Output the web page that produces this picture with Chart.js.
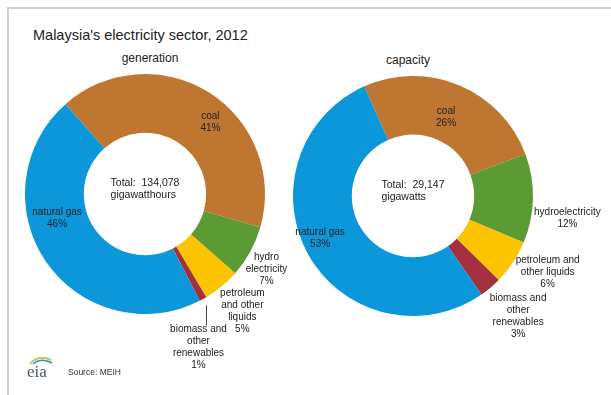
<!DOCTYPE html>
<html>
<head>
<meta charset="utf-8">
<script src="https://cdn.jsdelivr.net/npm/chart.js"></script>
<style>
    body { margin: 0; background: #fff; font-family: "Liberation Sans", Arial, sans-serif; }
    #page { position: relative; width: 611px; height: 395px; overflow: hidden; }
    #frame { position: absolute; left: 7px; top: 7px; width: 620px; height: 400px;
             border-left: 2px solid #cfcfcf; border-top: 2px solid #cfcfcf; }
    .txt { position: absolute; color: #222; white-space: nowrap; }
    #title { left: 33px; top: 27px; font-size: 14.5px; }
    #sub1 { left: 150px; top: 51px; font-size: 12px; transform: translateX(-50%); }
    #sub2 { left: 408px; top: 53px; font-size: 12px; transform: translateX(-50%); }
    #source { left: 68px; top: 367px; font-size: 8.5px; color: #333; }
    #logo { position: absolute; left: 24px; top: 352px; }
    .box { position: absolute; top: 0; height: 395px; }
</style>
</head>
<body>
<div id="page">
    <div id="frame"></div>
    <div class="txt" id="title">Malaysia's electricity sector, 2012</div>
    <div class="txt" id="sub1">generation</div>
    <div class="txt" id="sub2">capacity</div>
    <div class="box" style="left:0;width:290px"><canvas id="genChart"></canvas></div>
    <div class="box" style="left:290px;width:321px"><canvas id="capChart"></canvas></div>
    <svg id="logo" width="32" height="28" viewBox="0 0 32 28">
        <path d="M6 12 Q14 2 27 8" stroke="#b5d334" stroke-width="2" fill="none"/>
        <path d="M9 12 Q17 5 28 11" stroke="#2b8fcf" stroke-width="1.6" fill="none"/>
        <text x="3" y="25" font-family="Liberation Serif, serif" font-size="17" fill="#4b5a6c">eia</text>
    </svg>
    <div class="txt" id="source">Source: MEIH</div>
</div>
<script>
// categories in clockwise drawing order
var categories = ["coal", "hydroelectricity", "petroleum and other liquids", "biomass and other renewables", "natural gas"];
var colors = ["#bf7631", "#5c9a33", "#fcc300", "#a3303e", "#0b97d9"];

// percent shares
var generationShare = [41, 7, 5, 1, 46];
var capacityShare = [26, 12, 6, 3, 53];

var generationTotal = ["Total:  134,078", "gigawatthours"];
var capacityTotal = ["Total:  29,147", "gigawatts"];

var generationLabels = [["coal"], ["hydro", "electricity"], ["petroleum", "and other", "liquids"], ["biomass and", "other", "renewables"], ["natural gas"]];
var capacityLabels = [["coal"], ["hydroelectricity"], ["petroleum and", "other liquids"], ["biomass and", "other", "renewables"], ["natural gas"]];

// label placement: angle shift from slice middle (deg), distance as share of outer radius
var generationPlace = [
    { shift: 10, dist: 0.81 },
    { shift: 3, dist: 1.19 },
    { shift: 0, dist: 1.27 },
    { leader: true },
    { shift: 19, dist: 0.76 }
];
var capacityPlace = [
    { shift: 0, dist: 0.71 },
    { shift: 7, dist: 1.30 },
    { shift: -4, dist: 1.29 },
    { shift: -1, dist: 1.33 },
    { shift: 5, dist: 0.85 }
];

var sliceLabels = {
    id: "sliceLabels",
    afterDraw: function (chart, args, opts) {
        var ctx = chart.ctx;
        var arcs = chart.getDatasetMeta(0).data;
        var values = chart.data.datasets[0].data;
        ctx.save();
        ctx.fillStyle = "#222";
        ctx.font = "10px 'Liberation Sans', Arial, sans-serif";
        ctx.textAlign = "center";
        ctx.textBaseline = "middle";
        var lh = 11.8;
        arcs.forEach(function (arc, i) {
            var lines = opts.labels[i].concat([values[i] + "%"]);
            var p = opts.place[i];
            var mid = (arc.startAngle + arc.endAngle) / 2;
            var cx, cy;
            if (p.leader) {
                var x0 = arc.x + Math.cos(mid) * arc.outerRadius * 1.06;
                var y0 = arc.y + Math.sin(mid) * arc.outerRadius * 1.06;
                ctx.strokeStyle = "#444";
                ctx.lineWidth = 1;
                ctx.beginPath();
                ctx.moveTo(x0, y0);
                ctx.lineTo(x0, y0 + 20);
                ctx.stroke();
                cx = x0 - 8;
                cy = y0 + 24 + (lines.length - 1) * lh / 2;
            } else {
                var a = mid + p.shift * Math.PI / 180;
                cx = arc.x + Math.cos(a) * arc.outerRadius * p.dist;
                cy = arc.y + Math.sin(a) * arc.outerRadius * p.dist;
            }
            lines.forEach(function (t, k) {
                ctx.fillText(t, cx, cy + (k - (lines.length - 1) / 2) * lh);
            });
        });
        // total in the hole
        var c = arcs[0];
        ctx.font = "10.5px 'Liberation Sans', Arial, sans-serif";
        ctx.textAlign = "left";
        var w = ctx.measureText(opts.total[0]).width;
        ctx.fillText(opts.total[0], c.x - w / 2, c.y - 11);
        ctx.fillText(opts.total[1], c.x - w / 2, c.y + 1);
        ctx.restore();
    }
};

function makeDonut(id, data, labels, place, total, rotation, pad) {
    return new Chart(document.getElementById(id), {
        type: "doughnut",
        data: {
            labels: categories,
            datasets: [{
                data: data,
                backgroundColor: colors,
                borderWidth: 0,
                hoverOffset: 0
            }]
        },
        options: {
            responsive: true,
            maintainAspectRatio: false,
            animation: false,
            rotation: rotation,
            cutout: "51%",
            layout: { padding: pad },
            events: [],
            plugins: {
                legend: { display: false },
                tooltip: { enabled: false },
                sliceLabels: { labels: labels, place: place, total: total }
            }
        },
        plugins: [sliceLabels]
    });
}

makeDonut("genChart", generationShare, generationLabels, generationPlace, generationTotal, -41.5,
    { left: 25, right: 25, top: 74, bottom: 81 });
makeDonut("capChart", capacityShare, capacityLabels, capacityPlace, capacityTotal, -24,
    { left: 3, right: 78, top: 76, bottom: 79 });
</script>
</body>
</html>
